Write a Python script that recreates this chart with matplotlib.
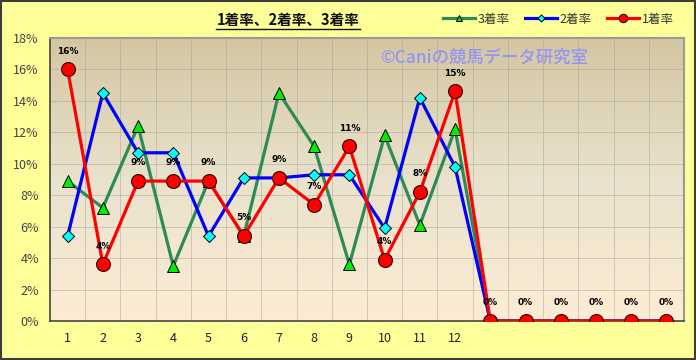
import numpy as np
import matplotlib.pyplot as plt
from matplotlib.colors import LinearSegmentedColormap
from matplotlib.patches import Rectangle

plt.rcParams['font.family'] = ['Noto Sans CJK JP', 'DejaVu Sans']

categories = ['1', '2', '3', '4', '5', '6', '7', '8', '9', '10', '11', '12', '', '', '', '', '', '']
rate1 = [16.0, 3.6, 8.9, 8.9, 8.9, 5.4, 9.1, 7.4, 11.1, 3.9, 8.2, 14.6, 0, 0, 0, 0, 0, 0]
rate2 = [5.4, 14.5, 10.7, 10.7, 5.4, 9.1, 9.1, 9.3, 9.3, 5.9, 14.2, 9.8, 0, 0, 0, 0, 0, 0]
rate3 = [8.9, 7.2, 12.4, 3.5, 8.9, 5.4, 14.5, 11.1, 3.6, 11.8, 6.1, 12.2, 0, 0, 0, 0, 0, 0]
yticks = [0, 2, 4, 6, 8, 10, 12, 14, 16, 18]

fig = plt.figure(figsize=(6.96, 3.6), dpi=100)
fig.patch.set_facecolor('#ffff99')
fig.patches.append(Rectangle((0.001, 0.002), 0.997, 0.995, transform=fig.transFigure,
                             fill=False, edgecolor='#3c3c3c', linewidth=1.5))

ax = fig.add_axes([50 / 696, 39 / 360, 634 / 696, 283 / 360])
x = np.arange(1, len(categories) + 1)

# gradient background of the plot area
cmap = LinearSegmentedColormap.from_list('bg', ['#d4c6a2', '#e9e2cc', '#fdecd4'])
grad = np.linspace(0, 1, 256).reshape(-1, 1)
ax.imshow(grad, extent=[0, 1, 0, 1], transform=ax.transAxes, cmap=cmap,
          aspect='auto', zorder=0)

ax.set_xlim(0.5, len(categories) + 0.5)
ax.set_ylim(0, 18)

for b in np.arange(1.5, len(categories), 1):
    ax.axvline(b, color='#9a9a9a', linestyle=(0, (1.2, 1.2)), linewidth=0.6, zorder=1)
for t in yticks[1:-1]:
    ax.axhline(t, color='#9a9a9a', linestyle=(0, (1.2, 1.2)), linewidth=0.6, zorder=1)

ax.plot(x, rate3, color='#2e8b57', linewidth=2.3, marker='^', markersize=8,
        markerfacecolor='#00ee00', markeredgecolor='black', markeredgewidth=0.7,
        label='3着率', zorder=3)
ax.plot(x, rate2, color='#0000ff', linewidth=2.3, marker='D', markersize=6,
        markerfacecolor='#00ffff', markeredgecolor='black', markeredgewidth=0.7,
        label='2着率', zorder=4)
ax.plot(x, rate1, color='#ff0000', linewidth=2.3, marker='o', markersize=10,
        markerfacecolor='#ff0000', markeredgecolor='#330000', markeredgewidth=0.8,
        label='1着率', zorder=5)

for xi, v in zip(x, rate1):
    ax.annotate(f'{v:.0f}%', (xi, v), xytext=(0, 10), textcoords='offset points',
                ha='center', va='bottom', fontsize=6.5, fontweight='bold',
                family='DejaVu Sans', zorder=6)

ax.set_xticks(x)
ax.set_xticklabels(categories, fontsize=9, color='#222222')
ax.set_yticks(yticks)
ax.set_yticklabels([f'{t}%' for t in yticks], fontsize=9, color='#444444')
ax.tick_params(axis='both', length=0)
ax.tick_params(axis='y', pad=8)
ax.tick_params(axis='x', pad=8)

for s in ['left', 'bottom']:
    ax.spines[s].set_color('#444444')
    ax.spines[s].set_linewidth(1.2)
for s in ['top', 'right']:
    ax.spines[s].set_color('#999999')
    ax.spines[s].set_linewidth(1.5)

fig.text(288 / 696, 1 - 20 / 360, '1着率、2着率、3着率', ha='center', va='center',
         fontsize=10.5, fontweight='bold', color='#111111')
fig.add_artist(plt.Line2D([216 / 696, 360 / 696], [1 - 29 / 360, 1 - 29 / 360],
                          color='#111111', linewidth=1))

ax.text(484 / 696, 1 - 58 / 360, '©Caniの競馬データ研究室', transform=fig.transFigure,
        ha='center', va='center', fontsize=12.5, color='#9494f2', fontweight='medium',
        zorder=2)

fig.legend(loc='center', bbox_to_anchor=(558 / 696, 1 - 19 / 360), ncol=3,
           frameon=False, fontsize=9, handlelength=2.6, handletextpad=0.2,
           columnspacing=1.2, labelcolor='#333333', markerscale=0.6)

fig.savefig('out.png', dpi=100, facecolor=fig.get_facecolor())
